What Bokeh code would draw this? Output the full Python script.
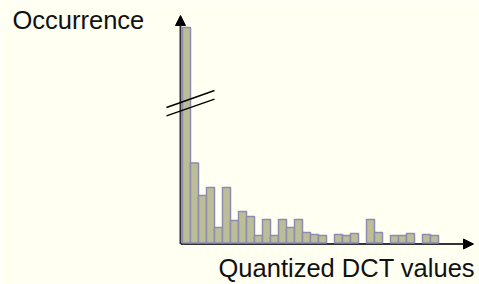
from bokeh.plotting import figure
from bokeh.models import Range1d, Arrow, NormalHead, ColumnDataSource
from bokeh.core.properties import value
from bokeh.embed import file_html
from bokeh.resources import INLINE

# Histogram of quantized DCT values (first bin is truncated by an axis break)
bins = list(range(32))
occurrence = [215.5, 80, 47.5, 55.5, 15.5, 55.5, 22.5, 31.5, 26.5, 7.5,
              23.5, 7.5, 23.5, 15.5, 23.5, 10.5, 8.5, 7.5, 0, 8.5,
              7.5, 9.5, 0, 23.5, 10.5, 0, 7.5, 7.5, 9.5, 0,
              8.5, 7.5]
y_label = "Occurrence"
x_label = "Quantized DCT values"

BG = "#fffff2"
p = figure(width=479, height=284, output_backend="svg", toolbar_location=None,
           x_range=Range1d(-22.75, 37.125), y_range=Range1d(-41.5, 242.5),
           min_border=0, min_border_left=0, min_border_right=0,
           min_border_top=0, min_border_bottom=0)
p.xaxis.visible = False
p.yaxis.visible = False
p.xgrid.visible = False
p.ygrid.visible = False
p.outline_line_color = None
p.background_fill_color = BG
p.border_fill_color = BG

# x axis line (below bars)
p.add_layout(Arrow(end=NormalHead(size=10, fill_color="black", line_color="black", line_width=1),
                   x_start=-0.2, y_start=-1, x_end=36.375, y_end=-1,
                   line_color="#333333", line_width=2, level="underlay"))
# y axis
p.add_layout(Arrow(end=NormalHead(size=10, fill_color="black", line_color="black", line_width=1),
                   x_start=-0.25, y_start=-1, x_end=-0.25, y_end=227.5,
                   line_color="#333333", line_width=2, level="underlay"))

xs = [b + 0.5 for b, v in zip(bins, occurrence) if v > 0]
tops = [v for v in occurrence if v > 0]
src = ColumnDataSource(dict(x=xs, top=tops))
p.vbar(x="x", top="top", bottom=0, width=1, source=src,
       fill_color="#bebe96", line_color="#8b8bb3", line_width=1.5)

# axis break marks on the first bar
p.segment(x0=[-2, -2], y0=[135.5, 127.2], x1=[4, 4], y1=[152.5, 143.8],
          line_color="black", line_width=1.4)

p.text(x=[-21.25], y=[223.5], text=[y_label], text_font=value("Liberation Sans"),
       text_font_size="25.5px", text_color="#111111", text_baseline="alphabetic")
p.text(x=[4.5], y=[-24.5], text=[x_label], text_font=value("Liberation Sans"),
       text_font_size="25.5px", text_color="#111111", text_baseline="alphabetic")

html = file_html(p, INLINE)
html = html.replace("<body>", '<body style="background:%s">' % BG, 1)
open("out.html", "w").write(html)
